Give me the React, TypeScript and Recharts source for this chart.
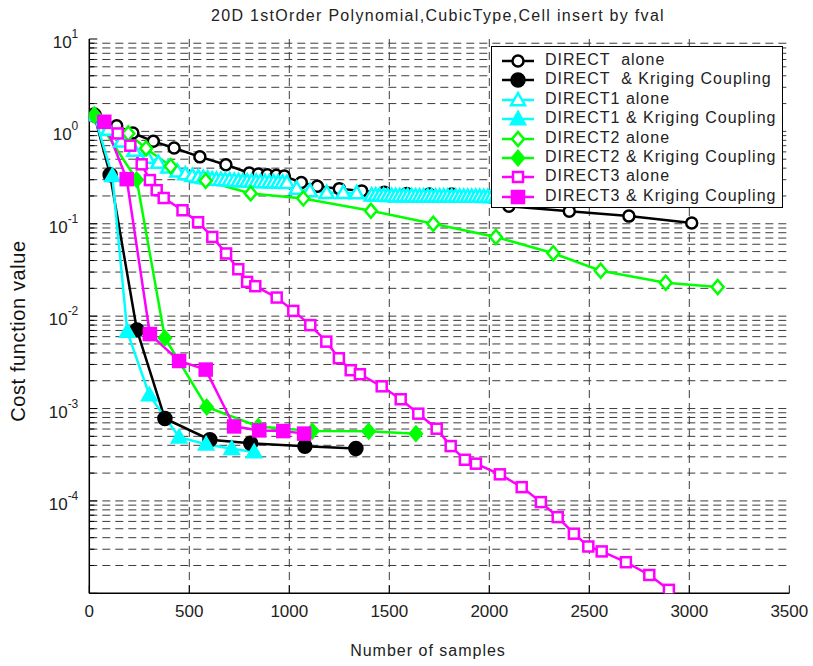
import React from "react";
import { LineChart, Line, XAxis, YAxis, CartesianGrid } from "recharts";

// DIRECT alone
const directAloneN = [25, 137, 218, 320, 424, 553, 683, 800, 845, 890, 935, 975, 1060, 1140, 1250, 1362, 1475, 1587, 1700, 1812, 2098, 2400, 2698, 3012];
const directAloneCost = [1.5, 1.15, 0.96, 0.78, 0.66, 0.53, 0.435, 0.355, 0.345, 0.34, 0.335, 0.328, 0.28, 0.255, 0.24, 0.227, 0.22, 0.213, 0.21, 0.21, 0.155, 0.137, 0.121, 0.102];

// DIRECT & Kriging coupling
const directKrigN = [25, 104, 238, 378, 603, 807, 1078, 1333];
const directKrigCost = [1.5, 0.34, 0.0071, 0.00078, 0.00046, 0.00042, 0.00039, 0.00037];

// DIRECT1 alone
const direct1AloneN = [
  25, 95, 160, 225, 290, 345, 395, 440, 480, 515, 545, 570, 592, 614, 636, 658, 680, 702, 724, 746,
  768, 790, 812, 834, 856, 878, 900, 922, 944, 966, 988, 1037, 1103, 1187, 1270, 1337, 1412, 1432, 1452, 1472,
  1492, 1512, 1532, 1552, 1572, 1592, 1612, 1632, 1652, 1672, 1692, 1712, 1732, 1752, 1772, 1792, 1812, 1832, 1852, 1872,
  1892, 1912, 1932, 1952, 1972, 1992, 2012, 2032, 2052,
];
const direct1AloneCost = [
  1.5, 1.05, 0.78, 0.62, 0.52, 0.46, 0.41, 0.37, 0.345, 0.33, 0.32, 0.315, 0.31, 0.305, 0.302, 0.3, 0.298, 0.296, 0.294, 0.292,
  0.29, 0.288, 0.287, 0.286, 0.285, 0.284, 0.283, 0.282, 0.281, 0.28, 0.278, 0.241, 0.227, 0.216, 0.216, 0.215, 0.204, 0.203, 0.202, 0.202,
  0.201, 0.201, 0.2, 0.2, 0.2, 0.2, 0.2, 0.199, 0.199, 0.199, 0.199, 0.199, 0.198, 0.198, 0.198, 0.198, 0.198, 0.198, 0.197, 0.197,
  0.197, 0.197, 0.197, 0.197, 0.196, 0.196, 0.196, 0.196, 0.196,
];

// DIRECT1 & Kriging coupling
const direct1KrigN = [25, 115, 190, 300, 449, 584, 712, 824];
const direct1KrigCost = [1.5, 0.33, 0.0068, 0.0014, 0.00049, 0.00041, 0.000367, 0.000338];

// DIRECT2 alone
const direct2AloneN = [25, 195, 284, 407, 582, 807, 1070, 1408, 1720, 2033, 2320, 2557, 2882, 3142];
const direct2AloneCost = [1.5, 0.95, 0.654, 0.42, 0.292, 0.213, 0.188, 0.138, 0.1, 0.072, 0.048, 0.031, 0.023, 0.0207];

// DIRECT2 & Kriging coupling
const direct2KrigN = [25, 237, 378, 587, 845, 1115, 1397, 1633];
const direct2KrigCost = [1.5, 0.3, 0.0058, 0.00104, 0.00064, 0.00057, 0.000567, 0.000535];

// DIRECT3 alone
const direct3AloneN = [
  75, 142, 205, 262, 303, 337, 372, 466, 544, 615, 684, 745, 789, 830, 937, 1020, 1105, 1185, 1248, 1307,
  1353, 1462, 1557, 1645, 1737, 1807, 1878, 1933, 2053, 2162, 2258, 2342, 2423, 2495, 2562, 2683, 2800, 2898,
];
const direct3AloneCost = [
  1.27, 0.95, 0.7, 0.44, 0.297, 0.231, 0.19, 0.14, 0.104, 0.072, 0.0477, 0.0322, 0.0235, 0.0211, 0.0159, 0.0114, 0.008, 0.0053, 0.0035, 0.0026,
  0.00235, 0.00174, 0.00126, 0.00088, 0.000605, 0.000392, 0.000279, 0.000253, 0.000194, 0.000141, 0.0000971, 0.0000668, 0.0000442, 0.0000321, 0.0000284, 0.0000217, 0.0000158, 0.0000109,
];

// DIRECT3 & Kriging coupling
const direct3KrigN = [75, 187, 303, 449, 582, 724, 850, 970, 1074];
const direct3KrigCost = [1.27, 0.304, 0.0064, 0.00327, 0.00264, 0.00064, 0.00058, 0.00057, 0.000535];

const sampleTicks = [0, 500, 1000, 1500, 2000, 2500, 3000, 3500];
const decadeTicks = [1e-5, 1e-4, 1e-3, 1e-2, 1e-1, 1, 10];
const minorSteps = [2, 3, 4, 5, 6, 7, 8, 9];

const costTicks = [
  ...decadeTicks,
  ...decadeTicks.slice(0, -1).flatMap((d) => minorSteps.map((m) => m * d)),
].sort((a, b) => a - b);

type Shape = "circle" | "triangle" | "diamond" | "square";

interface SeriesDef {
  name: string;
  color: string;
  shape: Shape;
  filled: boolean;
  n: number[];
  cost: number[];
}

const series: SeriesDef[] = [
  { name: "DIRECT  alone", color: "#000000", shape: "circle", filled: false, n: directAloneN, cost: directAloneCost },
  { name: "DIRECT  & Kriging Coupling", color: "#000000", shape: "circle", filled: true, n: directKrigN, cost: directKrigCost },
  { name: "DIRECT1 alone", color: "#00ffff", shape: "triangle", filled: false, n: direct1AloneN, cost: direct1AloneCost },
  { name: "DIRECT1 & Kriging Coupling", color: "#00ffff", shape: "triangle", filled: true, n: direct1KrigN, cost: direct1KrigCost },
  { name: "DIRECT2 alone", color: "#00ff00", shape: "diamond", filled: false, n: direct2AloneN, cost: direct2AloneCost },
  { name: "DIRECT2 & Kriging Coupling", color: "#00ff00", shape: "diamond", filled: true, n: direct2KrigN, cost: direct2KrigCost },
  { name: "DIRECT3 alone", color: "#ff00ff", shape: "square", filled: false, n: direct3AloneN, cost: direct3AloneCost },
  { name: "DIRECT3 & Kriging Coupling", color: "#ff00ff", shape: "square", filled: true, n: direct3KrigN, cost: direct3KrigCost },
];

const sans = '"Liberation Sans", Arial, sans-serif';
const gridColor = "#3c3c3c";

function Marker({ x, y, shape, color, filled }: { x: number; y: number; shape: Shape; color: string; filled: boolean }) {
  const fill = filled ? color : "#ffffff";
  const sw = 2.5;
  if (shape === "circle") {
    return <circle cx={x} cy={y} r={filled ? 6.5 : 5.5} fill={fill} stroke={color} strokeWidth={sw} />;
  }
  if (shape === "square") {
    const s = filled ? 6 : 5;
    return <rect x={x - s} y={y - s} width={s * 2} height={s * 2} fill={fill} stroke={color} strokeWidth={sw} />;
  }
  if (shape === "triangle") {
    const s = 7;
    return (
      <polygon
        points={`${x},${y - s} ${x - s},${y + s * 0.75} ${x + s},${y + s * 0.75}`}
        fill={fill}
        stroke={color}
        strokeWidth={sw}
      />
    );
  }
  const s = 7;
  return (
    <polygon
      points={`${x},${y - s} ${x + s * 0.85},${y} ${x},${y + s} ${x - s * 0.85},${y}`}
      fill={fill}
      stroke={color}
      strokeWidth={sw}
    />
  );
}

const isDecade = (v: number) => decadeTicks.some((d) => Math.abs(v - d) / d < 1e-6);

function LeftTick(props: any) {
  const { x, y, payload } = props;
  const v = payload.value as number;
  const major = isDecade(v);
  const exp = Math.round(Math.log10(v));
  return (
    <g>
      <line x1={x} x2={x + (major ? 8 : 5)} y1={y} y2={y} stroke="#000" strokeWidth={1} />
      {major && exp > -5 && (
        <text x={x - 11} y={y + 9} textAnchor="end" fontFamily={sans} fontSize={17} fill="#222">
          <tspan>10</tspan>
          <tspan dy={-10} fontSize={12}>{exp}</tspan>
        </text>
      )}
    </g>
  );
}

function RightTick(props: any) {
  const { x, y, payload } = props;
  const major = isDecade(payload.value);
  return <line x1={x} x2={x - (major ? 8 : 5)} y1={y} y2={y} stroke="#000" strokeWidth={1} />;
}

function BottomTick(props: any) {
  const { x, y, payload } = props;
  return (
    <g>
      <line x1={x} x2={x} y1={y} y2={y - 8} stroke="#000" strokeWidth={1} />
      <text x={x} y={y + 24} textAnchor="middle" fontFamily={sans} fontSize={17} fill="#222">
        {payload.value}
      </text>
    </g>
  );
}

function TopTick(props: any) {
  const { x, y } = props;
  return <line x1={x} x2={x} y1={y} y2={y + 8} stroke="#000" strokeWidth={1} />;
}

function ChartLegend() {
  return (
    <div
      style={{
        position: "absolute",
        left: 491,
        top: 46,
        width: 292,
        height: 162,
        border: "1.5px solid #000",
        background: "#fff",
        paddingTop: 4,
        boxSizing: "border-box",
      }}
    >
      {series.map((s) => (
        <div key={s.name} style={{ height: 19.4, position: "relative" }}>
          <svg width={48} height={20} style={{ position: "absolute", left: 8, top: 0 }}>
            <line x1={2} x2={34} y1={10} y2={10} stroke={s.color} strokeWidth={2.5} />
            <Marker x={18} y={10} shape={s.shape} color={s.color} filled={s.filled} />
          </svg>
          <span
            style={{
              position: "absolute",
              left: 53,
              top: 0,
              fontFamily: sans,
              fontSize: 16,
              letterSpacing: 1,
              whiteSpace: "pre",
              color: "#222",
            }}
          >
            {s.name}
          </span>
        </div>
      ))}
    </div>
  );
}

export default function App() {
  return (
    <div style={{ position: "absolute", left: 0, top: 0, width: 813, height: 666, background: "#fff" }}>
      <div
        style={{
          position: "absolute",
          left: 0,
          width: 876,
          top: 7,
          textAlign: "center",
          fontFamily: sans,
          fontSize: 16,
          letterSpacing: 1.3,
          color: "#222",
        }}
      >
        20D 1stOrder Polynomial,CubicType,Cell insert by fval
      </div>

      <LineChart width={813} height={666} margin={{ top: 39, right: 23.7, bottom: 32.7, left: 19.3 }}>
        <CartesianGrid
          xAxisId="bottom"
          yAxisId="left"
          stroke={gridColor}
          strokeDasharray="8 5"
          horizontalValues={costTicks.filter((v) => v > 1e-5 && v < 10)}
          verticalValues={sampleTicks.filter((v) => v > 0 && v < 3500)}
        />
        <XAxis
          xAxisId="bottom"
          dataKey="n"
          type="number"
          domain={[0, 3500]}
          ticks={sampleTicks}
          interval={0}
          height={40}
          tickSize={0}
          tickMargin={0}
          tick={<BottomTick />}
          axisLine={{ stroke: "#000", strokeWidth: 1.5 }}
          allowDataOverflow
        />
        <XAxis
          xAxisId="top"
          orientation="top"
          type="number"
          domain={[0, 3500]}
          ticks={sampleTicks}
          interval={0}
          height={0}
          tickSize={0}
          tickMargin={0}
          tick={<TopTick />}
          axisLine={{ stroke: "#000", strokeWidth: 1.5 }}
          allowDataOverflow
        />
        <YAxis
          yAxisId="left"
          dataKey="cost"
          scale="log"
          type="number"
          domain={[1e-5, 10]}
          ticks={costTicks}
          interval={0}
          width={70}
          tickSize={0}
          tickMargin={0}
          tick={<LeftTick />}
          axisLine={{ stroke: "#000", strokeWidth: 1.5 }}
          allowDataOverflow
        />
        <YAxis
          yAxisId="right"
          orientation="right"
          scale="log"
          type="number"
          domain={[1e-5, 10]}
          ticks={costTicks}
          interval={0}
          width={0}
          tickSize={0}
          tickMargin={0}
          tick={<RightTick />}
          axisLine={{ stroke: "#000", strokeWidth: 1.5 }}
          allowDataOverflow
        />
        {series.map((s) => (
          <Line
            key={s.name}
            xAxisId="bottom"
            yAxisId="left"
            data={s.n.map((n, i) => ({ n, cost: s.cost[i] }))}
            dataKey="cost"
            name={s.name}
            stroke={s.color}
            strokeWidth={2.5}
            isAnimationActive={false}
            activeDot={false}
            dot={(p: any) => (
              <Marker key={`${s.name}-${p.index}`} x={p.cx} y={p.cy} shape={s.shape} color={s.color} filled={s.filled} />
            )}
          />
        ))}
      </LineChart>

      <ChartLegend />

      <div
        style={{
          position: "absolute",
          left: 18,
          top: 331,
          transform: "translate(-50%, -50%) rotate(-90deg)",
          whiteSpace: "nowrap",
          fontFamily: sans,
          fontSize: 20,
          letterSpacing: 0.6,
          color: "#111",
        }}
      >
        Cost function value
      </div>
      <div
        style={{
          position: "absolute",
          left: 428,
          top: 651,
          transform: "translate(-50%, -50%)",
          whiteSpace: "nowrap",
          fontFamily: sans,
          fontSize: 16,
          letterSpacing: 1,
          color: "#222",
        }}
      >
        Number of samples
      </div>
    </div>
  );
}
